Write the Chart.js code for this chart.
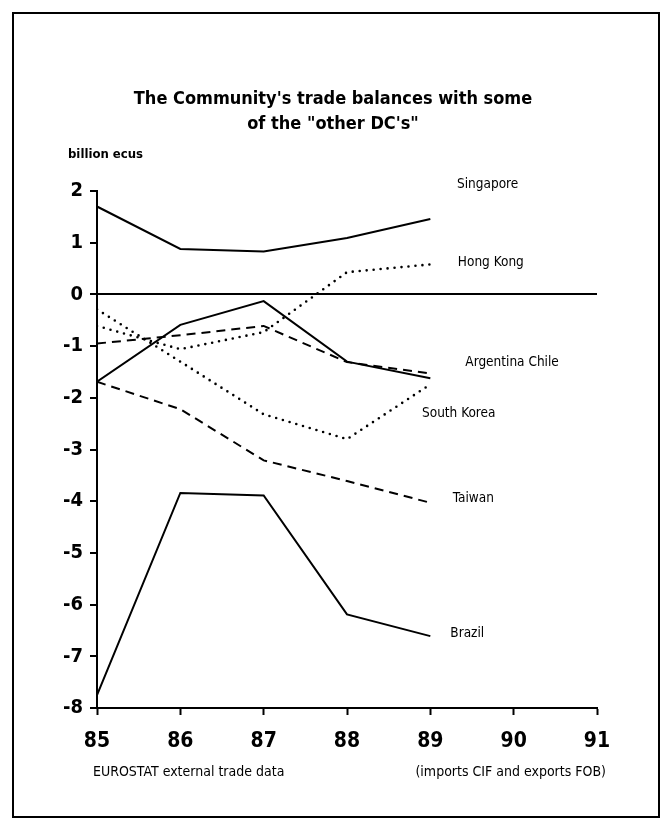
<!DOCTYPE html>
<html>
<head>
<meta charset="utf-8">
<script src="https://cdn.jsdelivr.net/npm/chart.js@4.4.0/dist/chart.umd.min.js"></script>
<style>
  body { margin: 0; background: #fff; }
  #wrap { position: relative; width: 667px; height: 829px; }
  #frame { position: absolute; left: 12px; top: 12px; width: 648px; height: 806px; border: 2px solid #000; box-sizing: border-box; }
  #chart { position: absolute; left: 0; top: 0; }
</style>
</head>
<body>
<div id="wrap">
  <div id="frame"></div>
  <canvas id="chart" width="667" height="829"></canvas>
</div>
<script>
// values (billion ecus)
const years = [85, 86, 87, 88, 89];
const singapore = [1.70, 0.88, 0.83, 1.09, 1.46];
const hongKong = [-0.61, -1.06, -0.73, 0.43, 0.58];
const southKorea = [-0.29, -1.30, -2.32, -2.80, -1.74];
const argentina = [-0.95, -0.79, -0.61, -1.31, -1.53];
const chile = [-1.69, -0.59, -0.13, -1.30, -1.62];
const taiwan = [-1.69, -2.22, -3.21, -3.61, -4.03];
const brazil = [-7.75, -3.84, -3.89, -6.19, -6.61];
const xTicks = [85, 86, 87, 88, 89, 90, 91];
const yTicks = [2, 1, 0, -1, -2, -3, -4, -5, -6, -7, -8];

const FONT = "'Liberation Sans Narrow', 'DejaVu Sans Condensed', 'Arial Narrow', sans-serif";

const pts = (vals) => years.map((y, i) => ({ x: y, y: vals[i] }));

const solid = [];
const dashed = [9, 6];
const dotted = [0, 7];

function series(label, vals, dash) {
  return {
    label: label,
    data: pts(vals),
    borderColor: "#000",
    borderWidth: dash === dotted ? 2.6 : 2,
    borderDash: dash,
    borderCapStyle: dash === dotted ? "round" : "butt",
    pointRadius: 0,
    tension: 0,
    fill: false,
  };
}

// where each name sits, in chart units
const seriesNames = [
  { text: "Singapore", x: 89.32, y: 2.13 },
  { text: "Hong Kong", x: 89.33, y: 0.62 },
  { text: "Argentina Chile", x: 89.42, y: -1.32 },
  { text: "South Korea", x: 88.9, y: -2.30 },
  { text: "Taiwan", x: 89.27, y: -3.95 },
  { text: "Brazil", x: 89.24, y: -6.56 },
];

const textPlugin = {
  id: "texts",
  afterDraw(chart) {
    const ctx = chart.ctx;
    const xs = chart.scales.x, ys = chart.scales.y;
    ctx.save();
    ctx.fillStyle = "#000";
    ctx.textBaseline = "middle";

    // title
    ctx.textAlign = "center";
    ctx.font = "bold 18px " + FONT;
    ctx.fillText("The Community's trade balances with some", 333, 99);
    ctx.fillText("of the \"other DC's\"", 333, 124);

    ctx.textAlign = "left";
    ctx.font = "bold 13px " + FONT;
    ctx.fillText("billion ecus", 68, 155);

    // series names
    ctx.font = "13.5px " + FONT;
    seriesNames.forEach((n) => {
      ctx.fillText(n.text, xs.getPixelForValue(n.x), ys.getPixelForValue(n.y));
    });

    // source notes
    ctx.font = "14px " + FONT;
    ctx.textAlign = "left";
    ctx.fillText("EUROSTAT external trade data", 93, 772);
    ctx.textAlign = "right";
    ctx.fillText("(imports CIF and exports FOB)", 606, 772);
    ctx.restore();
  },
};

new Chart(document.getElementById("chart"), {
  type: "line",
  data: {
    datasets: [
      series("Singapore", singapore, solid),
      series("Hong Kong", hongKong, dotted),
      series("South Korea", southKorea, dotted),
      series("Argentina", argentina, dashed),
      series("Chile", chile, solid),
      series("Taiwan", taiwan, dashed),
      series("Brazil", brazil, solid),
    ],
  },
  options: {
    responsive: false,
    animation: false,
    layout: { padding: { top: 191, right: 70, bottom: 76, left: 0 } },
    plugins: { legend: { display: false }, tooltip: { enabled: false } },
    scales: {
      x: {
        type: "linear",
        min: 85,
        max: 91,
        afterBuildTicks: (s) => { s.ticks = xTicks.map((v) => ({ value: v })); },
        afterFit: (s) => { s.height = 45; },
        ticks: { color: "#000", font: { family: FONT, size: 21, weight: "bold" }, padding: 14 },
        grid: { drawOnChartArea: false, tickLength: 7, tickColor: "#000", tickWidth: 2 },
        border: { display: true, color: "#000", width: 2 },
      },
      y: {
        min: -8,
        max: 2,
        afterBuildTicks: (s) => { s.ticks = yTicks.map((v) => ({ value: v })); },
        afterFit: (s) => { s.width = 97; },
        ticks: { color: "#000", font: { family: FONT, size: 20, weight: "bold" }, padding: 7 },
        grid: {
          color: (c) => (c.tick && c.tick.value === 0 ? "#000" : "rgba(0,0,0,0)"),
          lineWidth: 2,
          tickLength: 7,
          tickColor: "#000",
          tickWidth: 2,
        },
        border: { display: true, color: "#000", width: 2 },
      },
    },
  },
  plugins: [textPlugin],
});
</script>
</body>
</html>
